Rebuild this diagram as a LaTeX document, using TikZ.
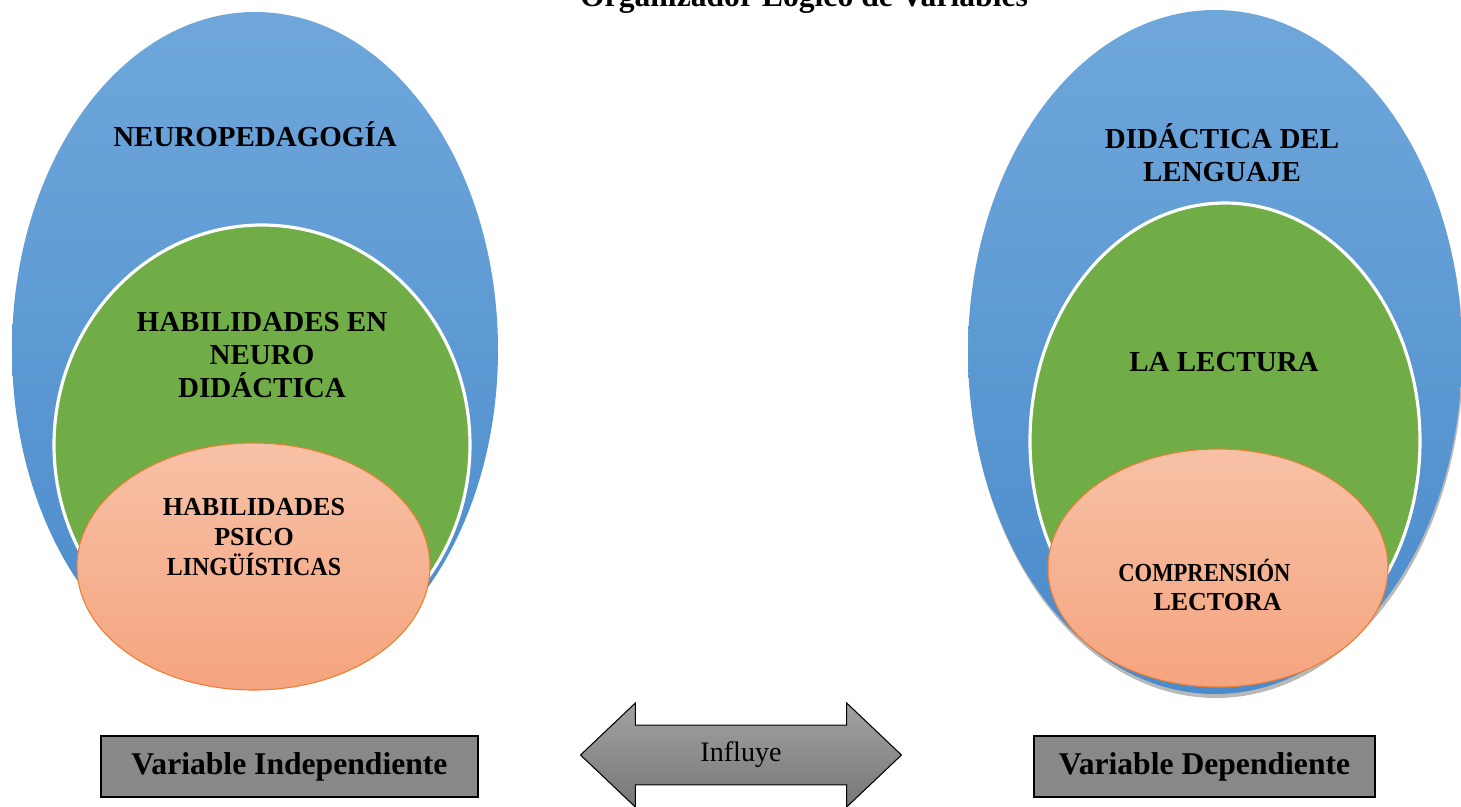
\documentclass[tikz,border=0pt]{standalone}
\usepackage{fontspec}
\setmainfont{Liberation Serif}
\usetikzlibrary{shapes.arrows,positioning}

\definecolor{azularriba}{HTML}{6FA7DB}
\definecolor{azulabajo}{HTML}{4A8BCB}
\definecolor{verde}{HTML}{70AD47}
\definecolor{salmonarriba}{HTML}{F7C1A6}
\definecolor{salmonabajo}{HTML}{F5A47E}
\definecolor{naranja}{HTML}{ED7D31}
\definecolor{caja}{HTML}{888888}
\definecolor{flechaarriba}{HTML}{A2A2A2}
\definecolor{flechaabajo}{HTML}{777777}

\begin{document}
\begin{tikzpicture}[x=0.02cm,y=-0.02cm,
  azul/.style={top color=azularriba,bottom color=azulabajo},
  verdecirc/.style={fill=verde,draw=white,line width=1.8pt},
  salmon/.style={top color=salmonarriba,bottom color=salmonabajo,draw=naranja,line width=0.6pt},
  etiqueta/.style={font=\bfseries\fontsize{16.5}{19}\selectfont,align=center},
  cajavar/.style={draw=black,fill=caja,line width=0.8pt,minimum height=1.22cm,font=\bfseries\fontsize{18}{21}\selectfont},
  flecha/.style={double arrow,draw=black,line width=0.6pt,top color=flechaarriba,bottom color=flechaabajo,
    minimum height=6.42cm,minimum width=2.08cm,double arrow head extend=0.2cm,double arrow tip angle=87,
    inner sep=0pt,font=\fontsize{16}{19}\selectfont}]
\useasboundingbox (0,0) rectangle (1461,806);
\clip (0,0) rectangle (1461,806);

\node[font=\bfseries\fontsize{18}{21}\selectfont,anchor=base] (titulo) at (804,6) {Organizador Lógico de Variables};

% variable independiente
\shade[azul] (255,350) ellipse [x radius=243, y radius=338];
\draw[verdecirc] (262,445) ellipse [x radius=208, y radius=220];
\shade[salmon] (253.5,566.5) ellipse [x radius=176.5, y radius=123.5];

\node[etiqueta] (neuro) at (255,134) {NEUROPEDAGOGÍA};
\node[etiqueta] (habneuro) at (262,355) {HABILIDADES EN\\NEURO\\DIDÁCTICA};
\node[etiqueta,font=\bfseries\fontsize{14.8}{17}\selectfont] (habpsico) at (254,537)
  {HABILIDADES\\PSICO\\\scalebox{0.92}[1]{LINGÜÍSTICAS}};

% variable dependiente
\fill[gray!55] (1216,356) ellipse [x radius=247, y radius=342];
\shade[azul] (1215,352) ellipse [x radius=247, y radius=342];
\draw[verdecirc] (1225,441) ellipse [x radius=195, y radius=238];
\shade[salmon] (1218,568) ellipse [x radius=170, y radius=119];

\node[etiqueta] (didactica) at (1222,153) {DIDÁCTICA DEL\\LENGUAJE};
\node[etiqueta] (lectura) at (1224,362) {LA LECTURA};
\node[etiqueta,font=\bfseries\fontsize{14.8}{17}\selectfont,align=left,anchor=west,inner sep=0pt] (comprension) at (1118,585)
  {\scalebox{0.87}[1]{COMPRENSIÓN}\\\hspace*{20pt}LECTORA};

% flecha y cajas
\coordinate (centroflecha) at (741,755);
\node[flecha] (influye) at (centroflecha) {Influye};
\node[cajavar,minimum width=7.54cm] (vi) at (289.5,766.5) {Variable Independiente};
\node[cajavar,minimum width=6.82cm] (vd) at (1204.5,766.5) {Variable Dependiente};
\end{tikzpicture}
\end{document}
